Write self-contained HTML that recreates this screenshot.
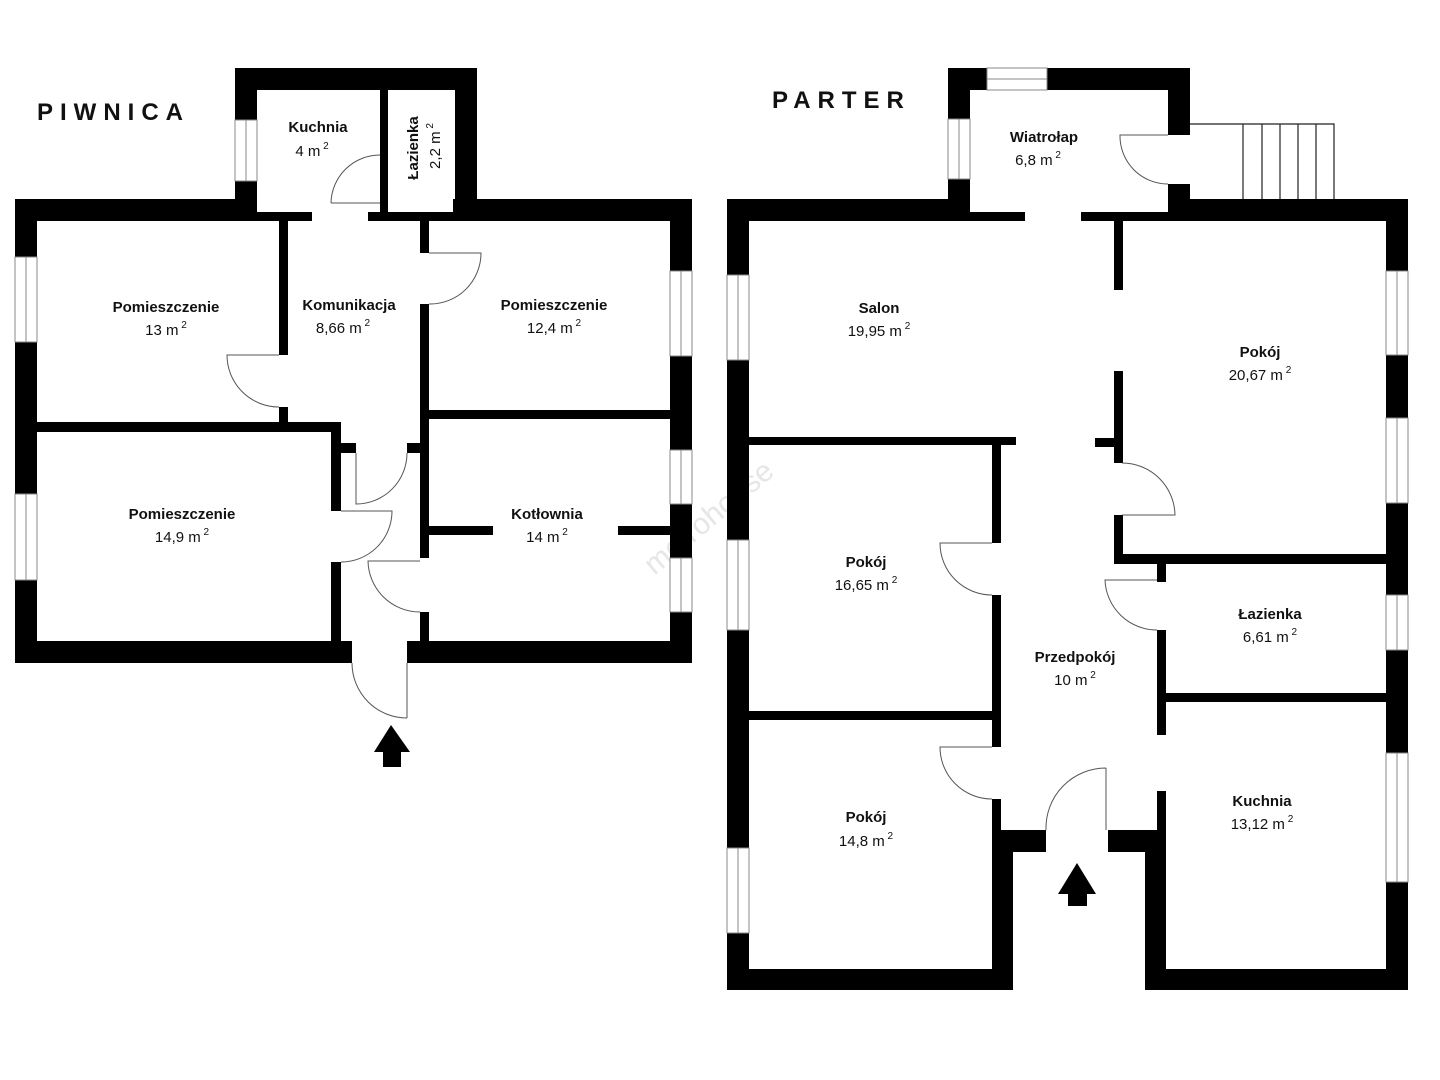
<!DOCTYPE html>
<html><head><meta charset="utf-8"><style>
html,body{margin:0;padding:0;background:#fff;}
svg{display:block}
text{font-family:"Liberation Sans",sans-serif;fill:#111;}
.n{font-size:15px;font-weight:bold;text-anchor:middle}
.a{font-size:15px;text-anchor:middle}
.s{font-size:10px}
.w{fill:#000}
.win{fill:#fff;stroke:#888;stroke-width:1}
.d{fill:none;stroke:#555;stroke-width:1}
</style></head><body>
<svg width="1440" height="1080" viewBox="0 0 1440 1080" xmlns="http://www.w3.org/2000/svg">
<text x="37" y="120" style="font-size:24px;font-weight:bold;letter-spacing:7px">PIWNICA</text>
<text x="772" y="108" style="font-size:24px;font-weight:bold;letter-spacing:7px">PARTER</text>
<text x="715" y="525" transform="rotate(-40 715 525)" style="font-size:30px;fill:#e6e6e6;text-anchor:middle">metrohouse</text>

<!-- PIWNICA walls -->
<g class="w">
<rect x="15" y="199" width="242" height="22"/>
<rect x="453" y="199" width="239" height="22"/>
<rect x="15" y="199" width="22" height="464"/>
<rect x="670" y="199" width="22" height="464"/>
<rect x="15" y="641" width="337" height="22"/>
<rect x="407" y="641" width="285" height="22"/>
<rect x="235" y="68" width="242" height="22"/>
<rect x="235" y="68" width="22" height="153"/>
<rect x="455" y="68" width="22" height="153"/>
<rect x="380" y="90" width="8" height="131"/>
<rect x="257" y="212" width="55" height="9"/>
<rect x="368" y="212" width="87" height="9"/>
<rect x="279" y="221" width="9" height="134"/>
<rect x="279" y="407" width="9" height="15"/>
<rect x="37" y="422" width="304" height="10"/>
<rect x="420" y="221" width="9" height="32"/>
<rect x="420" y="304" width="9" height="254"/>
<rect x="420" y="612" width="9" height="30"/>
<rect x="429" y="410" width="241" height="9"/>
<rect x="331" y="422" width="10" height="89"/>
<rect x="331" y="562" width="10" height="80"/>
<rect x="341" y="443" width="15" height="10"/>
<rect x="407" y="443" width="13" height="10"/>
<rect x="429" y="526" width="64" height="9"/>
<rect x="618" y="526" width="52" height="9"/>
</g>
<rect class="win" x="15" y="257" width="22" height="85"/><line x1="26" y1="257" x2="26" y2="342" stroke="#888"/>
<rect class="win" x="15" y="494" width="22" height="86"/><line x1="26" y1="494" x2="26" y2="580" stroke="#888"/>
<rect class="win" x="670" y="271" width="22" height="85"/><line x1="681" y1="271" x2="681" y2="356" stroke="#888"/>
<rect class="win" x="670" y="450" width="22" height="54"/><line x1="681" y1="450" x2="681" y2="504" stroke="#888"/>
<rect class="win" x="670" y="558" width="22" height="54"/><line x1="681" y1="558" x2="681" y2="612" stroke="#888"/>
<rect class="win" x="235" y="120" width="22" height="61"/><line x1="246" y1="120" x2="246" y2="181" stroke="#888"/>
<g class="d">
<path d="M331 203 H380 M331 203 A49 49 0 0 1 380 155"/>
<path d="M279 355 H227 A52 52 0 0 0 279 407"/>
<path d="M429 253 H481 A51 51 0 0 1 429 304"/>
<path d="M356 453 V504 A51 51 0 0 0 407 453"/>
<path d="M341 511 H392 A51 51 0 0 1 341 562"/>
<path d="M420 561 H368 A52 52 0 0 0 420 612"/>
<path d="M407 663 V718 M352 663 A55 55 0 0 0 407 718"/>
</g>
<path d="M391 725 L410 752 L401 752 L401 767 L383 767 L383 752 L374 752 Z" fill="#000"/>

<text class="n" x="318" y="132">Kuchnia</text>
<text class="a" x="312" y="156">4 m<tspan class="s" dy="-7"> 2</tspan></text>
<text class="n" x="418" y="148" transform="rotate(-90 418 148)">Łazienka</text>
<text class="a" x="440" y="146" transform="rotate(-90 440 146)">2,2 m<tspan class="s" dy="-7"> 2</tspan></text>
<text class="n" x="166" y="312">Pomieszczenie</text>
<text class="a" x="166" y="335">13 m<tspan class="s" dy="-7"> 2</tspan></text>
<text class="n" x="349" y="310">Komunikacja</text>
<text class="a" x="343" y="333">8,66 m<tspan class="s" dy="-7"> 2</tspan></text>
<text class="n" x="554" y="310">Pomieszczenie</text>
<text class="a" x="554" y="333">12,4 m<tspan class="s" dy="-7"> 2</tspan></text>
<text class="n" x="182" y="519">Pomieszczenie</text>
<text class="a" x="182" y="542">14,9 m<tspan class="s" dy="-7"> 2</tspan></text>
<text class="n" x="547" y="519">Kotłownia</text>
<text class="a" x="547" y="542">14 m<tspan class="s" dy="-7"> 2</tspan></text>

<!-- PARTER walls -->
<g class="w">
<rect x="727" y="199" width="243" height="22"/>
<rect x="1168" y="199" width="240" height="22"/>
<rect x="727" y="199" width="22" height="791"/>
<rect x="1386" y="199" width="22" height="791"/>
<rect x="727" y="969" width="286" height="21"/>
<rect x="1145" y="969" width="263" height="21"/>
<rect x="948" y="68" width="242" height="22"/>
<rect x="948" y="68" width="22" height="153"/>
<rect x="1168" y="68" width="22" height="67"/>
<rect x="1168" y="184" width="22" height="37"/>
<rect x="970" y="212" width="55" height="9"/>
<rect x="1081" y="212" width="87" height="9"/>
<rect x="1114" y="221" width="9" height="69"/>
<rect x="1114" y="371" width="9" height="92"/>
<rect x="1114" y="515" width="9" height="49"/>
<rect x="1095" y="438" width="19" height="9"/>
<rect x="1114" y="554" width="272" height="10"/>
<rect x="749" y="437" width="267" height="8"/>
<rect x="992" y="445" width="9" height="98"/>
<rect x="992" y="595" width="9" height="152"/>
<rect x="992" y="799" width="9" height="31"/>
<rect x="992" y="830" width="21" height="160"/>
<rect x="749" y="711" width="243" height="9"/>
<rect x="1157" y="564" width="9" height="18"/>
<rect x="1157" y="630" width="9" height="105"/>
<rect x="1166" y="693" width="220" height="9"/>
<rect x="1157" y="791" width="9" height="39"/>
<rect x="1145" y="830" width="21" height="160"/>
<rect x="1001" y="830" width="45" height="22"/>
<rect x="1108" y="830" width="58" height="22"/>
</g>
<rect class="win" x="987" y="68" width="60" height="22"/><line x1="987" y1="79" x2="1047" y2="79" stroke="#888"/>
<rect class="win" x="948" y="119" width="22" height="60"/><line x1="959" y1="119" x2="959" y2="179" stroke="#888"/>
<rect class="win" x="727" y="275" width="22" height="85"/><line x1="738" y1="275" x2="738" y2="360" stroke="#888"/>
<rect class="win" x="727" y="540" width="22" height="90"/><line x1="738" y1="540" x2="738" y2="630" stroke="#888"/>
<rect class="win" x="727" y="848" width="22" height="85"/><line x1="738" y1="848" x2="738" y2="933" stroke="#888"/>
<rect class="win" x="1386" y="271" width="22" height="84"/><line x1="1397" y1="271" x2="1397" y2="355" stroke="#888"/>
<rect class="win" x="1386" y="418" width="22" height="85"/><line x1="1397" y1="418" x2="1397" y2="503" stroke="#888"/>
<rect class="win" x="1386" y="595" width="22" height="55"/><line x1="1397" y1="595" x2="1397" y2="650" stroke="#888"/>
<rect class="win" x="1386" y="753" width="22" height="129"/><line x1="1397" y1="753" x2="1397" y2="882" stroke="#888"/>
<g fill="none" stroke="#222" stroke-width="1.2">
<path d="M1190 124 H1334 V199 M1243 124 V199 M1262 124 V199 M1280 124 V199 M1298 124 V199 M1316 124 V199"/>
</g>
<g class="d">
<path d="M1168 135 H1120 A48 48 0 0 0 1168 184"/>
<path d="M1122 515 H1175 A53 53 0 0 0 1122 463"/>
<path d="M992 543 H940 A52 52 0 0 0 992 595"/>
<path d="M1157 580 H1105 A52 52 0 0 0 1157 630"/>
<path d="M992 747 H940 A52 52 0 0 0 992 799"/>
<path d="M1106 830 V768 M1046 830 A60 60 0 0 1 1106 768"/>
</g>
<path d="M1077 863 L1096 894 L1087 894 L1087 906 L1068 906 L1068 894 L1058 894 Z" fill="#000"/>

<text class="n" x="1044" y="142">Wiatrołap</text>
<text class="a" x="1038" y="165">6,8 m<tspan class="s" dy="-7"> 2</tspan></text>
<text class="n" x="879" y="313">Salon</text>
<text class="a" x="879" y="336">19,95 m<tspan class="s" dy="-7"> 2</tspan></text>
<text class="n" x="1260" y="357">Pokój</text>
<text class="a" x="1260" y="380">20,67 m<tspan class="s" dy="-7"> 2</tspan></text>
<text class="n" x="866" y="567">Pokój</text>
<text class="a" x="866" y="590">16,65 m<tspan class="s" dy="-7"> 2</tspan></text>
<text class="n" x="1270" y="619">Łazienka</text>
<text class="a" x="1270" y="642">6,61 m<tspan class="s" dy="-7"> 2</tspan></text>
<text class="n" x="1075" y="662">Przedpokój</text>
<text class="a" x="1075" y="685">10 m<tspan class="s" dy="-7"> 2</tspan></text>
<text class="n" x="866" y="822">Pokój</text>
<text class="a" x="866" y="846">14,8 m<tspan class="s" dy="-7"> 2</tspan></text>
<text class="n" x="1262" y="806">Kuchnia</text>
<text class="a" x="1262" y="829">13,12 m<tspan class="s" dy="-7"> 2</tspan></text>
</svg>
</body></html>
